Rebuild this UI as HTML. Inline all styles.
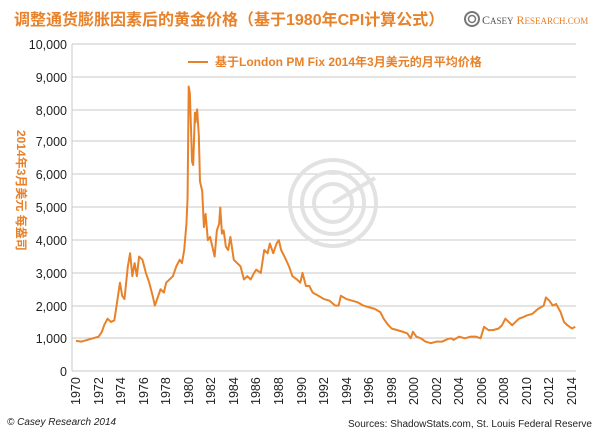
<!DOCTYPE html>
<html><head><meta charset="utf-8"><style>
body{margin:0;background:#fff;}
svg{display:block;font-family:"Liberation Sans","Noto Sans CJK SC",sans-serif;}
</style></head><body>
<svg width="600" height="433" viewBox="0 0 600 433" xmlns="http://www.w3.org/2000/svg">
<rect width="600" height="433" fill="#fff"/>
<text x="14" y="25" font-size="16" font-weight="bold" fill="#e8822a">调整通货膨胀因素后的黄金价格（基于1980年CPI计算公式）</text>
<g transform="translate(464,11)">
<circle cx="8" cy="8" r="7" fill="none" stroke="#777" stroke-width="2"/><circle cx="8" cy="8" r="3.5" fill="none" stroke="#777" stroke-width="1.5"/>
<text x="18" y="13" font-family="Liberation Serif,serif" font-size="12" fill="#555">C<tspan font-size="9">ASEY</tspan> <tspan fill="#e8822a">R</tspan><tspan font-size="9" fill="#e8822a">ESEARCH.COM</tspan></text>
</g>
<g stroke="#c8c8c8" stroke-width="1">
<line x1="72" x2="576" y1="44" y2="44"/><line x1="72" x2="576" y1="77" y2="77"/>
<line x1="72" x2="576" y1="110" y2="110"/><line x1="72" x2="576" y1="141" y2="141"/>
<line x1="72" x2="576" y1="174" y2="174"/><line x1="72" x2="576" y1="207" y2="207"/>
<line x1="72" x2="576" y1="240" y2="240"/><line x1="72" x2="576" y1="273" y2="273"/>
<line x1="72" x2="576" y1="306" y2="306"/><line x1="72" x2="576" y1="338" y2="338"/>
<line x1="72" x2="576" y1="371" y2="371"/><line x1="72" x2="72" y1="44" y2="371"/>
</g>
<g fill="none" stroke="#e2e2e2" stroke-width="4">
<circle cx="333" cy="203" r="43"/><circle cx="333" cy="203" r="31"/><circle cx="333" cy="203" r="19"/>
<line x1="333" y1="203" x2="375" y2="178"/>
</g>
<g font-size="12.5" fill="#222" text-anchor="end">
<text x="67" y="49">10,000</text><text x="67" y="82">9,000</text><text x="67" y="115">8,000</text>
<text x="67" y="146">7,000</text><text x="67" y="179">6,000</text><text x="67" y="212">5,000</text>
<text x="67" y="245">4,000</text><text x="67" y="278">3,000</text><text x="67" y="311">2,000</text>
<text x="67" y="343">1,000</text><text x="67" y="376">0</text>
</g>
<text transform="translate(17,130) rotate(90)" font-size="12" font-weight="bold" fill="#e8822a">2014年3月美元 每盎司</text>
<line x1="188" x2="208" y1="62" y2="62" stroke="#e8822a" stroke-width="2"/>
<text x="215" y="66" font-size="12" font-weight="bold" fill="#e8822a">基于London PM Fix 2014年3月美元的月平均价格</text>
<g transform="translate(76,371) scale(11.27,-0.0327)">
<polyline fill="none" stroke="#e8822a" stroke-width="2" vector-effect="non-scaling-stroke" stroke-linejoin="round" points="0,920 0.5,900 1,950 1.5,1000 2,1050 2.3,1200 2.5,1400 2.8,1600 3.1,1500 3.4,1550 3.6,2000 3.9,2700 4.1,2300 4.3,2200 4.6,3200 4.8,3600 5,2900 5.2,3300 5.4,2900 5.6,3500 5.9,3400 6.2,3000 6.5,2700 6.8,2300 7,2000 7.2,2200 7.5,2500 7.8,2400 8,2700 8.3,2800 8.6,2900 8.9,3200 9.2,3400 9.4,3300 9.6,3700 9.8,4500 9.9,5300 10,8700 10.1,8500 10.3,6400 10.4,6300 10.55,7900 10.6,7600 10.75,8000 10.9,7200 11,5800 11.2,5500 11.35,4400 11.5,4800 11.7,4000 11.9,4100 12.1,3800 12.3,3500 12.5,4300 12.7,4500 12.8,5000 12.95,4200 13.1,4300 13.3,3800 13.5,3700 13.7,4100 14,3400 14.3,3300 14.6,3200 14.9,2800 15.2,2900 15.5,2800 15.8,3000 16,3100 16.4,3000 16.7,3700 17,3600 17.2,3900 17.5,3600 17.8,3900 18,4000 18.2,3700 18.5,3500 18.9,3200 19.2,2900 19.6,2800 19.9,2700 20.1,3000 20.4,2600 20.7,2600 21,2400 21.5,2300 22,2200 22.5,2150 23,2000 23.3,2000 23.5,2300 24,2200 24.5,2150 25,2100 25.5,2000 26,1950 26.5,1900 27,1800 27.3,1600 27.6,1450 28,1300 28.5,1250 29,1200 29.4,1150 29.7,1000 29.9,1200 30.2,1050 30.6,1000 31,900 31.5,850 32,900 32.5,900 33,980 33.3,1000 33.5,950 34,1050 34.5,1000 35,1050 35.5,1050 35.9,1000 36.2,1350 36.6,1250 37,1250 37.5,1300 37.8,1400 38.1,1600 38.4,1500 38.7,1400 39,1500 39.3,1600 39.7,1650 40,1700 40.5,1750 41,1900 41.5,2000 41.7,2250 42,2150 42.3,2000 42.6,2050 43,1800 43.3,1500 43.6,1400 44,1300 44.3,1350"/>
</g>
<g font-size="12.5" fill="#222">
<text transform="translate(80,405) rotate(-90)">1970</text><text transform="translate(103,405) rotate(-90)">1972</text>
<text transform="translate(125,405) rotate(-90)">1974</text><text transform="translate(148,405) rotate(-90)">1976</text>
<text transform="translate(170,405) rotate(-90)">1978</text><text transform="translate(193,405) rotate(-90)">1980</text>
<text transform="translate(215,405) rotate(-90)">1982</text><text transform="translate(238,405) rotate(-90)">1984</text>
<text transform="translate(260,405) rotate(-90)">1986</text><text transform="translate(283,405) rotate(-90)">1988</text>
<text transform="translate(306,405) rotate(-90)">1990</text><text transform="translate(328,405) rotate(-90)">1992</text>
<text transform="translate(351,405) rotate(-90)">1994</text><text transform="translate(373,405) rotate(-90)">1996</text>
<text transform="translate(396,405) rotate(-90)">1998</text><text transform="translate(418,405) rotate(-90)">2000</text>
<text transform="translate(441,405) rotate(-90)">2002</text><text transform="translate(463,405) rotate(-90)">2004</text>
<text transform="translate(486,405) rotate(-90)">2006</text><text transform="translate(508,405) rotate(-90)">2008</text>
<text transform="translate(531,405) rotate(-90)">2010</text><text transform="translate(553,405) rotate(-90)">2012</text>
<text transform="translate(576,405) rotate(-90)">2014</text>
</g>
<text x="7" y="425" font-size="10" font-style="italic" fill="#222">© Casey Research 2014</text>
<text x="592" y="427" font-size="10" fill="#222" text-anchor="end">Sources: ShadowStats.com, St. Louis Federal Reserve</text>
</svg>
</body></html>
